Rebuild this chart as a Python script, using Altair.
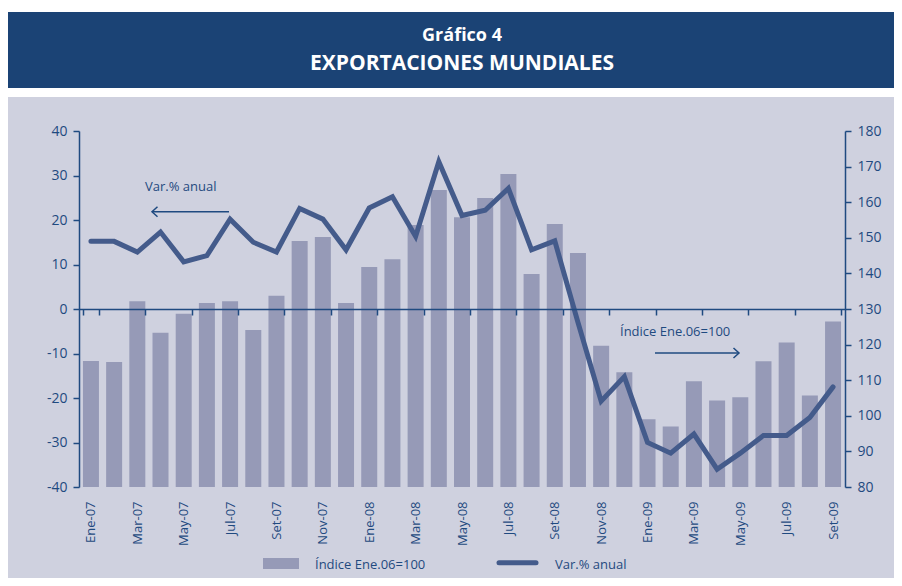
import altair as alt
import pandas as pd

months = ["Ene-07", "Feb-07", "Mar-07", "Abr-07", "May-07", "Jun-07", "Jul-07", "Ago-07",
          "Set-07", "Oct-07", "Nov-07", "Dic-07",
          "Ene-08", "Feb-08", "Mar-08", "Abr-08", "May-08", "Jun-08", "Jul-08", "Ago-08",
          "Set-08", "Oct-08", "Nov-08", "Dic-08",
          "Ene-09", "Feb-09", "Mar-09", "Abr-09", "May-09", "Jun-09", "Jul-09", "Ago-09",
          "Set-09"]
indice = [115.4, 115.1, 132.2, 123.3, 128.7, 131.7, 132.2, 124.1, 133.7, 149.1, 150.2, 131.7,
          141.8, 144.0, 153.6, 163.4, 155.8, 161.2, 167.9, 139.8, 153.9, 145.7, 119.7, 112.2,
          99.0, 97.0, 109.7, 104.3, 105.2, 115.3, 120.6, 105.7, 126.5]
var_anual = [15.2, 15.2, 12.8, 17.3, 10.6, 12.0, 20.2, 15.0, 12.8, 22.6, 20.2, 13.3,
             22.7, 25.2, 16.3, 33.1, 21.0, 22.2, 27.1, 13.3, 15.3, -3.0, -20.7, -15.2,
             -30.0, -32.4, -28.1, -36.0, -32.4, -28.4, -28.4, -24.4, -17.5]
label_months = months[::2]
title_lines = ["Gráfico 4", "EXPORTACIONES MUNDIALES"]
serie_names = ["Índice Ene.06=100", "Var.% anual"]

df = pd.DataFrame({"mes": months, "indice": indice, "var": var_anual})
one = pd.DataFrame({"k": [0]})

BG = "#cfd1df"
BANNER = "#1b4375"
BAR = "#969ab7"
LINE = "#445b8b"
AX = "#1f4a80"
FONT = "Open Sans"
TFONT = "Open Sans"

W, H = 766, 356

xscale = alt.Scale(domain=months, paddingInner=0.31, paddingOuter=0.17)

# decorations
white_top = alt.Chart(one).mark_rect(color="white").encode(
    x=alt.value(-71), x2=alt.value(815), y=alt.value(-123), y2=alt.value(-34))
banner = alt.Chart(one).mark_rect(color=BANNER).encode(
    x=alt.value(-71), x2=alt.value(815), y=alt.value(-119), y2=alt.value(-43))
t1 = alt.Chart(one).mark_text(text=title_lines[0], color="white", font=TFONT,
                              fontWeight="bold", fontSize=18, baseline="middle").encode(
    x=alt.value(383), y=alt.value(-95))
t2 = alt.Chart(one).mark_text(text=title_lines[1], color="white", font=TFONT,
                              fontWeight="bold", fontSize=21, baseline="middle").encode(
    x=alt.value(383), y=alt.value(-67))

bars = alt.Chart(df).mark_bar(color=BAR).encode(
    x=alt.X("mes:N", sort=months, scale=xscale, title=None,
            axis=alt.Axis(values=label_months, orient="bottom", offset=-178,
                          labelAngle=270, labelPadding=186, tickSize=6, tickWidth=1.5,
                          tickBand="extent", domainColor=AX, domainWidth=1.5,
                          tickColor=AX, labelColor=AX, labelFont=FONT, labelFontSize=13,
                          grid=False, zindex=1)),
    y=alt.Y("indice:Q", scale=alt.Scale(domain=[80, 180], zero=False, nice=False),
            title=None,
            axis=alt.Axis(orient="right", values=list(range(80, 181, 10)), tickSize=6,
                          labelPadding=6, domainColor=AX, domainWidth=1.5, tickColor=AX,
                          tickWidth=1.5, labelColor=AX, labelFont=FONT, labelFontSize=14,
                          labelExpr="'' + datum.value", grid=False, zindex=1)),
    y2=alt.datum(80),
)

line = alt.Chart(df).mark_line(color=LINE, strokeWidth=5, strokeCap="round",
                               strokeJoin="miter").encode(
    x=alt.X("mes:N", sort=months, scale=xscale, title=None),
    y=alt.Y("var:Q", scale=alt.Scale(domain=[-40, 40], nice=False), title=None,
            axis=alt.Axis(orient="left", values=list(range(-40, 41, 10)), tickSize=6,
                          labelPadding=6, domainColor=AX, domainWidth=1.5, tickColor=AX,
                          tickWidth=1.5, labelColor=AX, labelFont=FONT, labelFontSize=14,
                          labelExpr="'' + datum.value", grid=False, zindex=1)),
)

# annotations
ann1 = alt.Chart(one).mark_text(text=serie_names[1], color=AX, font=FONT, fontSize=13,
                                align="left", baseline="middle").encode(
    x=alt.value(66), y=alt.value(56))
arr1 = alt.Chart(one).mark_rule(color=AX, strokeWidth=1.5).encode(
    x=alt.value(73), x2=alt.value(150), y=alt.value(80.7))
head1 = alt.Chart(one).mark_point(shape="M1.1,-1L0,0L1.1,1", filled=False, color=AX,
                                  strokeWidth=1.5, size=100, opacity=1).encode(
    x=alt.value(73), y=alt.value(80.7))
ann2 = alt.Chart(one).mark_text(text=serie_names[0], color=AX, font=FONT, fontSize=13,
                                align="left", baseline="middle").encode(
    x=alt.value(541), y=alt.value(201))
arr2 = alt.Chart(one).mark_rule(color=AX, strokeWidth=1.5).encode(
    x=alt.value(576), x2=alt.value(660), y=alt.value(222))
head2 = alt.Chart(one).mark_point(shape="M-1.1,-1L0,0L-1.1,1", filled=False, color=AX,
                                  strokeWidth=1.5, size=100, opacity=1).encode(
    x=alt.value(660), y=alt.value(222))

# legend
leg_rect = alt.Chart(one).mark_rect(color=BAR).encode(
    x=alt.value(184), x2=alt.value(220), y=alt.value(427), y2=alt.value(438))
leg_t1 = alt.Chart(one).mark_text(text=serie_names[0], color=AX, font=FONT, fontSize=13,
                                  align="left", baseline="middle").encode(
    x=alt.value(236), y=alt.value(434))
leg_line = alt.Chart(one).mark_rule(color=LINE, strokeWidth=5, strokeCap="round").encode(
    x=alt.value(420), x2=alt.value(457), y=alt.value(431.7))
leg_t2 = alt.Chart(one).mark_text(text=serie_names[1], color=AX, font=FONT, fontSize=13,
                                  align="left", baseline="middle").encode(
    x=alt.value(476), y=alt.value(434))

chart = alt.layer(
    white_top, banner, t1, t2, bars, line, ann1, arr1, head1, ann2, arr2, head2,
    leg_rect, leg_t1, leg_line, leg_t2
).resolve_scale(y="independent").properties(
    width=W, height=H,
    padding={"left": 71, "top": 123, "right": 49, "bottom": 91},
    autosize=alt.AutoSizeParams(type="none"),
    background=BG,
).configure_view(stroke=None)

chart.save("out.html", embed_options={"renderer": "svg", "actions": False})
